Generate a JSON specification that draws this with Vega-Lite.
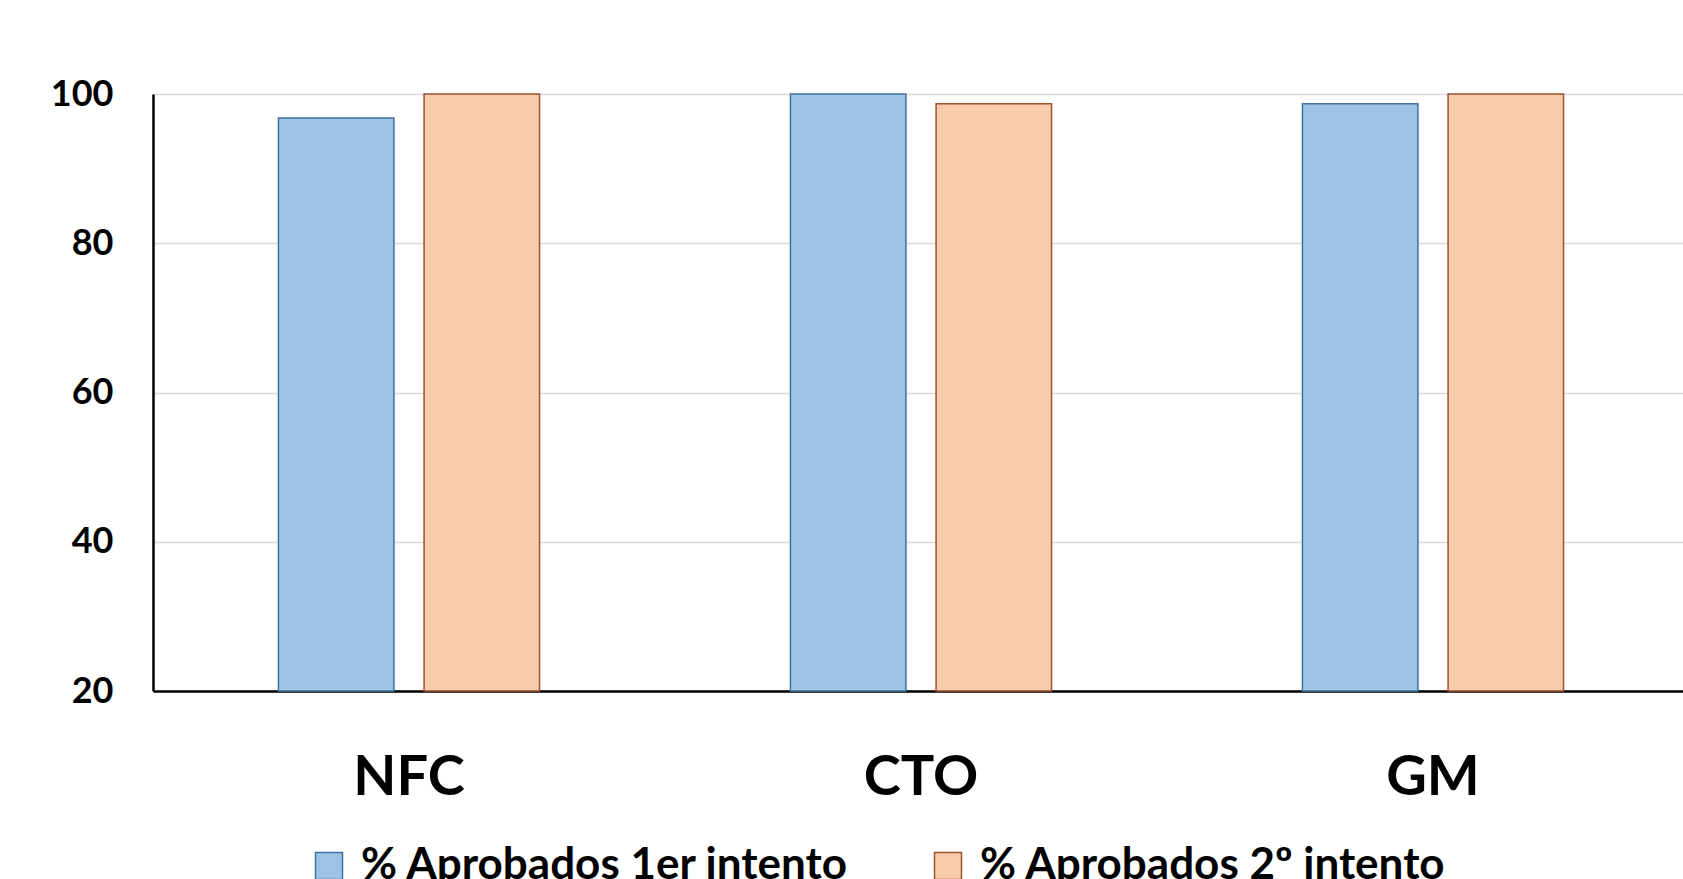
{
  "$schema": "https://vega.github.io/schema/vega-lite/v6.json",
  "width": 1536,
  "height": 597,
  "autosize": {"type": "none"},
  "padding": {"left": 153, "top": 94, "right": 0, "bottom": 188},
  "background": "white",
  "data": {
    "values": [
      {"grupo": "NFC", "serie": "% Aprobados 1er intento", "valor": 96.8},
      {"grupo": "NFC", "serie": "% Aprobados 2º intento", "valor": 100},
      {"grupo": "CTO", "serie": "% Aprobados 1er intento", "valor": 100},
      {"grupo": "CTO", "serie": "% Aprobados 2º intento", "valor": 98.7},
      {"grupo": "GM", "serie": "% Aprobados 1er intento", "valor": 98.7},
      {"grupo": "GM", "serie": "% Aprobados 2º intento", "valor": 100}
    ]
  },
  "mark": {"type": "bar", "strokeWidth": 1.5},
  "encoding": {
    "x": {
      "field": "grupo", "type": "nominal", "sort": ["NFC", "CTO", "GM"],
      "scale": {"paddingInner": 0.49, "paddingOuter": 0.245},
      "axis": {"title": null, "labelAngle": 0, "labelFont": "Lato", "labelFontWeight": "bold", "labelFontSize": 56, "labelColor": "black", "labelPadding": 59, "ticks": false, "domain": true, "domainColor": "black", "domainWidth": 2.5}
    },
    "xOffset": {
      "field": "serie", "type": "nominal",
      "scale": {"paddingInner": 0.207, "paddingOuter": 0}
    },
    "y": {
      "field": "valor", "type": "quantitative",
      "scale": {"domain": [20, 100], "zero": false, "nice": false},
      "axis": {"title": null, "values": [20, 40, 60, 80, 100], "labelFont": "Lato", "labelFontWeight": "bold", "labelFontSize": 36, "labelColor": "black", "labelPadding": 40, "ticks": false, "domainColor": "black", "domainWidth": 2.5, "gridColor": "#d9d9d9", "gridWidth": 1.5}
    },
    "y2": {"datum": 20},
    "fill": {
      "field": "serie", "type": "nominal",
      "scale": {"range": ["#9dc3e6", "#f8cbad"]},
      "legend": {"title": null, "orient": "none", "legendX": 154, "legendY": 750, "direction": "horizontal", "columns": 2, "columnPadding": 76, "symbolType": "square", "symbolSize": 729, "symbolStrokeWidth": 1.5, "labelFont": "Lato", "labelFontWeight": "bold", "labelFontSize": 44, "labelColor": "black", "labelLimit": 0, "labelOffset": 10}
    },
    "stroke": {
      "field": "serie", "type": "nominal",
      "scale": {"range": ["#41719c", "#a0522d"]},
      "legend": null
    }
  },
  "config": {
    "view": {"stroke": null},
    "axisX": {"grid": false}
  }
}
